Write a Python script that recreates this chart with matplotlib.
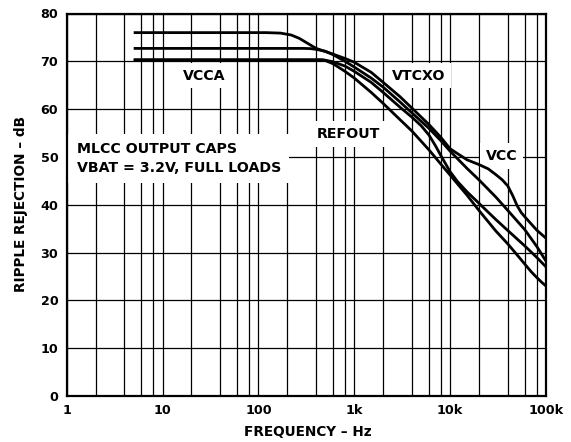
import matplotlib
matplotlib.use("Agg")
import matplotlib.pyplot as plt
from matplotlib.ticker import FixedLocator, NullLocator

# ---- data ----
vcc_f = [5, 120, 170, 220, 267, 330, 400, 600, 800, 1000, 1500, 2000, 3000, 4000, 6000,
         8000, 10000, 15000, 20000, 25000, 30000, 35000, 40000, 45000, 50000, 55000,
         60000, 70000, 80000, 100000]
vcc_db = [76, 76, 75.9, 75.5, 74.8, 73.7, 72.7, 71.5, 70.6, 69.8, 67.7, 65.6, 62.6, 60.2, 56.8,
          54.1, 51.7, 49.4, 48.4, 47.5, 46.3, 45.2, 43.9, 41.9, 39.8, 38.4,
          37.5, 36.0, 34.7, 33.0]

vtcxo_f = [5, 300, 350, 400, 500, 600, 800, 1000, 1500, 2000, 3000, 4000, 6000, 8000,
           10000, 15000, 20000, 30000, 40000, 60000, 80000, 100000]
vtcxo_db = [72.7, 72.7, 72.65, 72.5, 72.1, 71.4, 70.0, 68.8, 66.5, 64.6, 61.5, 59.2, 56.0, 53.4,
            51.2, 47.6, 45.2, 41.6, 38.8, 34.8, 31.3, 28.2]

vcca_f = [5, 480, 600, 800, 1000, 1500, 2000, 3000, 4000, 5000, 6000, 7000, 8000, 9000,
          10000, 12000, 15000, 20000, 30000, 40000, 60000, 80000, 100000]
vcca_db = [70.3, 70.3, 69.9, 69.0, 67.9, 65.6, 63.5, 60.4, 58.3, 56.5, 54.6, 52.4, 50.3, 48.5,
           46.9, 44.8, 42.7, 40.3, 36.9, 34.6, 31.4, 29.0, 27.0]

refout_f = [5, 450, 500, 600, 800, 1000, 1500, 2000, 3000, 4000, 6000, 8000, 10000, 15000,
            20000, 30000, 40000, 50000, 60000, 70000, 80000, 90000, 100000]
refout_db = [70.3, 70.3, 70.15, 69.5, 67.9, 66.5, 63.5, 61.2, 57.8, 55.4, 51.5, 48.5, 46.2, 42.0,
             38.8, 34.5, 31.8, 29.5, 27.6, 26.0, 24.8, 23.8, 23.0]

x_ticks = [1, 10, 100, 1000, 10000, 100000]
x_ticklabels = ["1", "10", "100", "1k", "10k", "100k"]
y_ticks = [0, 10, 20, 30, 40, 50, 60, 70, 80]
x_grid = [m * 10 ** d for d in range(5) for m in (1, 2, 4, 6, 8)] + [100000]

plt.rcParams['font.family'] = ['DejaVu Sans']
plt.rcParams['font.weight'] = 'bold'

fig = plt.figure(figsize=(5.71, 4.42), dpi=100)
ax = fig.add_axes([66.7 / 571, 1 - 396 / 442, (546 - 66.7) / 571, (396 - 13.5) / 442])
ax.set_xscale('log')
ax.set_xlim(1, 100000)
ax.set_ylim(0, 80)

for xv in x_grid:
    ax.axvline(xv, color='black', lw=0.9, zorder=1)
for yv in y_ticks:
    ax.axhline(yv, color='black', lw=0.9, zorder=1)

for f, d in [(vcc_f, vcc_db), (vtcxo_f, vtcxo_db), (vcca_f, vcca_db), (refout_f, refout_db)]:
    ax.plot(f, d, color='black', lw=2.0, zorder=4, solid_capstyle='butt', solid_joinstyle='round')

ax.xaxis.set_major_locator(FixedLocator(x_ticks))
ax.xaxis.set_minor_locator(NullLocator())
ax.set_xticklabels(x_ticklabels)
ax.set_yticks(y_ticks)
ax.tick_params(length=0, labelsize=9.2, pad=6)
for lab in ax.get_xticklabels() + ax.get_yticklabels():
    lab.set_fontweight('bold')
for s in ax.spines.values():
    s.set_linewidth(1.6)
    s.set_zorder(6)

ax.set_xlabel("FREQUENCY – Hz", fontsize=9.8, fontweight='bold')
ax.set_ylabel("RIPPLE REJECTION – dB", fontsize=9.8, fontweight='bold')
ax.xaxis.set_label_coords(0.503, -0.094)
ax.yaxis.set_label_coords(-0.095, 0.502)
ax.xaxis.label.set_va('center')
ax.yaxis.label.set_va('center')

box = dict(facecolor='white', edgecolor='none', pad=4)
fs = 10.2
ax.text(27, 67.0, "VCCA", ha='center', va='center', fontsize=fs, fontweight='bold', bbox=box, zorder=3)
ax.text(4700, 67.0, "VTCXO", ha='center', va='center', fontsize=fs, fontweight='bold', bbox=box, zorder=3)
ax.text(870, 54.8, "REFOUT", ha='center', va='center', fontsize=fs, fontweight='bold', bbox=box, zorder=3)
ax.text(34500, 50.2, "VCC", ha='center', va='center', fontsize=fs, fontweight='bold', bbox=box, zorder=3)
ax.text(1.27, 49.7, "MLCC OUTPUT CAPS\nVBAT = 3.2V, FULL LOADS", ha='left', va='center',
        fontsize=fs, fontweight='bold', linespacing=1.4,
        bbox=dict(facecolor='white', edgecolor='none', pad=6), zorder=3)

fig.savefig("out.png", dpi=100)
